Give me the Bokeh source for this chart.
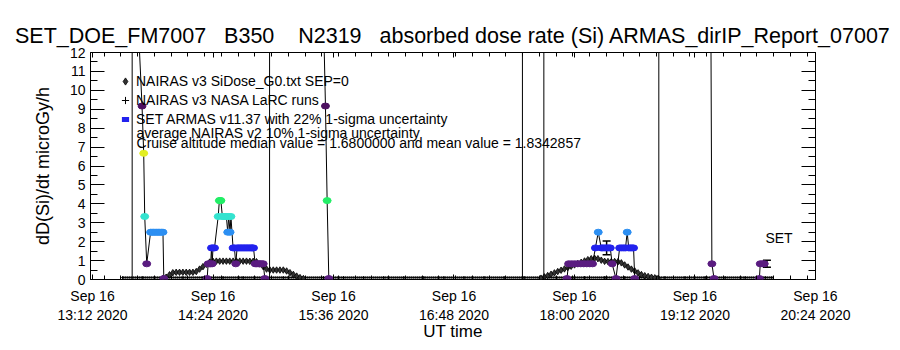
import math
from bokeh.plotting import figure
from bokeh.models import (ColumnDataSource, Span, Whisker, TeeHead, Legend, LegendItem,
                          Label, LinearAxis, FixedTicker, Range1d, CustomJSTickFormatter)
from bokeh.embed import file_html
from bokeh.resources import INLINE

FONT = "Liberation Sans"
NB = "\u00a0"

# ---------------- data (time = minutes after 00:00 UT, 2020-09-16) ----------------
title_text = ("SET_DOE_FM7007" + NB * 3 + "B350" + NB * 4 + "N2319" + NB * 3 +
              "absorbed dose rate (Si) ARMAS_dirIP_Report_07007")

# SET ARMAS v11.37 absorbed dose rate (NaN separates flight segments)
armas_times = [
    818.0, 821.6, 822.6, 823.2, 824.4, 826.7, 827.6, 828.5, 829.4, 830.4, 831.3, 832.2, 833.2, 834.1, 834.6,
    float("nan"),
    860.5, 861.1, 862.0, 862.6, 863.1, 863.5, 864.0, 864.9, 867.1, 867.8, 868.3, 868.7, 869.6, 870.4,
    871.2, 872.0, 872.8, 873.4, 874.2, 874.7, 876.0, 876.8, 877.6, 878.4, 879.3, 880.2, 881.1, 882.0,
    882.9, 883.8, 884.7, 885.6, 886.5, 887.4, 888.2, 889.2, 890.0, 891.0, 892.0, 893.0, 894.0, 895.0,
    float("nan"),
    929.5, 931.2, 932.2, 933.2,
    float("nan"),
    1075.5, 1076.5, 1078.3, 1080.1, 1081.9, 1083.7, 1085.5, 1087.3, 1089.1, 1090.8, 1092.5, 1094.2,
    1096.0, 1097.0, 1098.2, 1099.4, 1100.5, 1101.4, 1102.5, 1104.8, 1107.0, 1108.2, 1109.4, 1110.5,
    1111.5, 1112.4, 1113.4, 1114.4, 1115.3, 1116.0,
    float("nan"),
    1161.4, 1162.1, 1163.4,
    float("nan"),
    1190.5, 1191.0, 1192.2, 1193.4,
]
armas_values = [
    16.0, 9.17, 6.67, 3.33, 0.83, 2.5, 2.5, 2.5, 2.5, 2.5, 2.5, 2.5, 2.5, 2.5, 0.05,
    float("nan"),
    0.05, 0.83, 0.83, 0.83, 1.67, 0.83, 1.67, 1.67, 3.33, 4.17, 4.17, 4.17, 3.33, 3.33,
    3.33, 3.33, 2.5, 3.33, 2.5, 3.33, 1.67, 1.67, 0.83, 1.67, 1.67, 1.67, 1.67, 1.67,
    1.67, 1.67, 1.67, 1.67, 1.67, 1.67, 1.67, 0.83, 0.83, 0.83, 0.83, 0.83, 0.83, 0.05,
    float("nan"),
    16.0, 9.17, 4.17, 0.05,
    float("nan"),
    0.05, 0.83, 0.83, 0.83, 0.83, 0.83, 0.83, 0.83, 0.83, 0.83, 1.67, 2.5,
    1.67, 1.67, 1.67, 1.67, 1.67, 1.67, 0.83, 0.05, 1.67, 1.67, 1.67, 1.67,
    2.5, 1.67, 1.67, 1.67, 1.67, 0.05,
    float("nan"),
    16.0, 0.83, 0.05,
    float("nan"),
    0.05, 0.83, 0.83, 0.83,
]

# ARMAS 22% 1-sigma uncertainty bars
err_times = [1099.2, 1195.0]
err_values = [1.67, 0.83]
err_fraction = 0.22

# NAIRAS v3 SiDose_G0.txt SEP=0
g0_times = [834, 836, 838, 840, 842, 844, 846, 848, 850, 852, 854, 856, 858, 860, 862, 864, 866, 868,
            870, 872, 874, 876, 878, 880, 882, 884, 886, 888, 890, 892, 894, 896, 898, 900, 902, 904,
            906, 908, 910, 912, 914, 916, 918,
            1060, 1062, 1064, 1066, 1068, 1070, 1072, 1074, 1076, 1078, 1080, 1082, 1084, 1086, 1088,
            1090, 1092, 1094, 1096, 1098, 1100, 1102, 1104, 1106, 1108, 1110, 1112, 1114, 1116, 1118,
            1120, 1122, 1124, 1126, 1128, 1130]
g0_values = [0.05, 0.12, 0.25, 0.36, 0.38, 0.38, 0.38, 0.38, 0.38, 0.38, 0.42, 0.55, 0.68, 0.80, 0.92,
             0.96, 0.97, 0.97, 0.97, 0.97, 0.97, 0.97, 0.97, 0.97, 0.97, 0.97, 0.96, 0.96, 0.94, 0.82,
             0.68, 0.55, 0.50, 0.50, 0.50, 0.50, 0.50, 0.45, 0.36, 0.27, 0.18, 0.10, 0.05,
             0.07, 0.14, 0.21, 0.28, 0.35, 0.42, 0.49, 0.56, 0.63, 0.70, 0.77, 0.84, 0.91, 0.98, 1.05,
             1.10, 1.12, 1.10, 1.02, 0.96, 0.95, 0.95, 0.95, 0.94, 0.88, 0.77, 0.66, 0.55, 0.45, 0.35,
             0.26, 0.20, 0.16, 0.12, 0.09, 0.06]

# NAIRAS v3 NASA LaRC runs
larc_times = [810, 822, 834, 846, 858, 870, 882, 894, 906, 918, 930, 942, 954, 966, 978, 990, 1002,
              1014, 1026, 1038, 1050, 1062, 1074, 1086, 1098, 1110, 1122, 1134, 1146, 1158, 1170,
              1182, 1194, 1198]
larc_values = [0.1, 0.1, 0.1, 0.1, 0.1, 0.1, 0.1, 0.1, 0.1, 0.1, 0.1, 0.1, 0.1, 0.1, 0.1, 0.1, 0.1,
               0.1, 0.1, 0.1, 0.1, 0.1, 0.1, 0.1, 0.1, 0.1, 0.1, 0.1, 0.1, 0.1, 0.1,
               0.1, 0.1, 0.1]

# flight event markers (vertical lines)
marker_times = [815.7, 897.8, 1048.9, 1061.7, 1130.4]

tick_times = [792, 864, 936, 1008, 1080, 1152, 1224]
tick_labels = ["Sep 16\n13:12 2020", "Sep 16\n14:24 2020", "Sep 16\n15:36 2020", "Sep 16\n16:48 2020",
               "Sep 16\n18:00 2020", "Sep 16\n19:12 2020", "Sep 16\n20:24 2020"]
y_ticks = list(range(0, 13))

legend_labels = ["NAIRAS v3 SiDose_G0.txt SEP=0",
                 "NAIRAS v3 NASA LaRC runs",
                 "SET ARMAS v11.37 with 22% 1-sigma uncertainty"]
note_1 = "average NAIRAS v2 10% 1-sigma uncertainty"
note_2 = "Cruise altitude median value = 1.6800000 and mean value = 1.8342857"


def armas_color(v):
    if v < 1.2:
        return "#5a1c80"
    if v < 2.0:
        return "#2222ee"
    if v < 2.9:
        return "#2c8ff2"
    if v < 3.8:
        return "#34e3cf"
    if v < 5.5:
        return "#22ee66"
    if v < 8.0:
        return "#e2ee22"
    return "#4c1060"


# ---------------- figure ----------------
X0, X1 = 790.8, 1224.02
p = figure(width=900, height=350, output_backend="svg", toolbar_location=None,
           x_range=Range1d(X0, X1), y_range=Range1d(0, 12),
           x_axis_location=None, y_axis_location=None,
           min_border_left=90, min_border_right=85, min_border_top=52, min_border_bottom=71)
p.outline_line_color = "black"
p.outline_line_width = 1
p.xgrid.visible = False
p.ygrid.visible = False
p.background_fill_color = "white"
p.border_fill_color = "white"

p.title.text = title_text
p.title.align = "center"
p.title.text_font = FONT
p.title.text_font_size = "21.5px"
p.title.text_font_style = "normal"
p.title.text_color = "black"

blank = CustomJSTickFormatter(code="return ''")
x_minor = list(range(799, 1224, 10))
y_minor = [v / 2 for v in range(0, 25)]

xb = LinearAxis(ticker=FixedTicker(ticks=tick_times, minor_ticks=x_minor),
                major_label_overrides={t: s for t, s in zip(tick_times, tick_labels)})
xb.axis_label = "UT time"
xt = LinearAxis(ticker=FixedTicker(ticks=tick_times, minor_ticks=x_minor), formatter=blank)
yl = LinearAxis(ticker=FixedTicker(ticks=y_ticks, minor_ticks=y_minor))
yl.axis_label = "dD(Si)/dt microGy/h"
yr = LinearAxis(ticker=FixedTicker(ticks=y_ticks, minor_ticks=y_minor), formatter=blank)

for ax in (xb, xt):
    ax.major_tick_in = 5
    ax.major_tick_out = 0
    ax.minor_tick_in = 4
    ax.minor_tick_out = 0
for ax in (yl, yr):
    ax.major_tick_in = 14
    ax.major_tick_out = 0
    ax.minor_tick_in = 7
    ax.minor_tick_out = 0
for ax in (xb, xt, yl, yr):
    ax.axis_line_color = None
    ax.major_tick_line_color = "black"
    ax.minor_tick_line_color = "black"
    ax.major_label_text_font = FONT
    ax.major_label_text_font_size = "14px"
    ax.major_label_text_color = "black"
    ax.axis_label_text_font = FONT
    ax.axis_label_text_font_style = "normal"
    ax.axis_label_text_color = "black"
xb.major_label_standoff = 8
xb.axis_label_standoff = -4
xb.axis_label_text_font_size = "17px"
yl.major_label_standoff = 5
yl.axis_label_standoff = 14
yl.axis_label_text_font_size = "18px"

p.add_layout(xb, "below")
p.add_layout(xt, "above")
p.add_layout(yl, "left")
p.add_layout(yr, "right")

for t in marker_times:
    p.add_layout(Span(location=t, dimension="height", line_color="black", line_width=1))

# LaRC baseline
p.line(larc_times, larc_values, line_color="black", line_width=1)
p.line(larc_times, larc_values, line_color="black", line_width=3, line_dash="1 1")
larc_r = p.scatter(larc_times, larc_values, marker="cross", size=3, line_color="black")

# NAIRAS G0
g0_r = p.scatter(g0_times, g0_values, marker="diamond", size=6.5, fill_color="#333333",
                 line_color="black", line_width=0.8)

# ARMAS
p.line(armas_times, armas_values, line_color="black", line_width=1)
pts = [(t, v) for t, v in zip(armas_times, armas_values) if not math.isnan(v)]
armas_src = ColumnDataSource(dict(t=[a for a, _ in pts], v=[b for _, b in pts],
                                  c=[armas_color(b) for _, b in pts]))
p.ellipse(x="t", y="v", width=8, height=6, width_units="screen", height_units="screen",
          fill_color="c", line_color="c", source=armas_src)

err_src = ColumnDataSource(dict(t=err_times,
                                lo=[v * (1 - err_fraction) for v in err_values],
                                hi=[v * (1 + err_fraction) for v in err_values]))
p.add_layout(Whisker(source=err_src, base="t", lower="lo", upper="hi", dimension="height",
                     line_color="black", line_width=1.5,
                     upper_head=TeeHead(size=8, line_color="black", line_width=1.5),
                     lower_head=TeeHead(size=8, line_color="black", line_width=1.5)))

# legend stand-in glyph for ARMAS (one point placed below the visible y range)
armas_leg = p.scatter(x=[900.0], y=[-50.0], marker="dash", line_color="#2222ee",
                      line_width=5, line_cap="butt")

legend = Legend(items=[LegendItem(label=legend_labels[0], renderers=[g0_r]),
                       LegendItem(label=legend_labels[1], renderers=[larc_r]),
                       LegendItem(label=legend_labels[2], renderers=[armas_leg])],
                location=(25, 151), padding=0, margin=0, spacing=1,
                glyph_width=20, glyph_height=18, label_height=18, label_standoff=1,
                label_text_font=FONT, label_text_font_size="14px", label_text_color="black",
                border_line_alpha=0, background_fill_alpha=0)
p.add_layout(legend)

for txt, yv in ((note_1, 7.72), (note_2, 7.24)):
    p.add_layout(Label(x=818.3, y=yv, text=txt, text_font=FONT, text_font_size="14px",
                       text_baseline="middle", text_color="black"))
p.add_layout(Label(x=1194.1, y=2.22, text="SET", text_font=FONT, text_font_size="14px",
                   text_baseline="middle", text_color="black"))

open("out.html", "w").write(file_html(p, INLINE))
